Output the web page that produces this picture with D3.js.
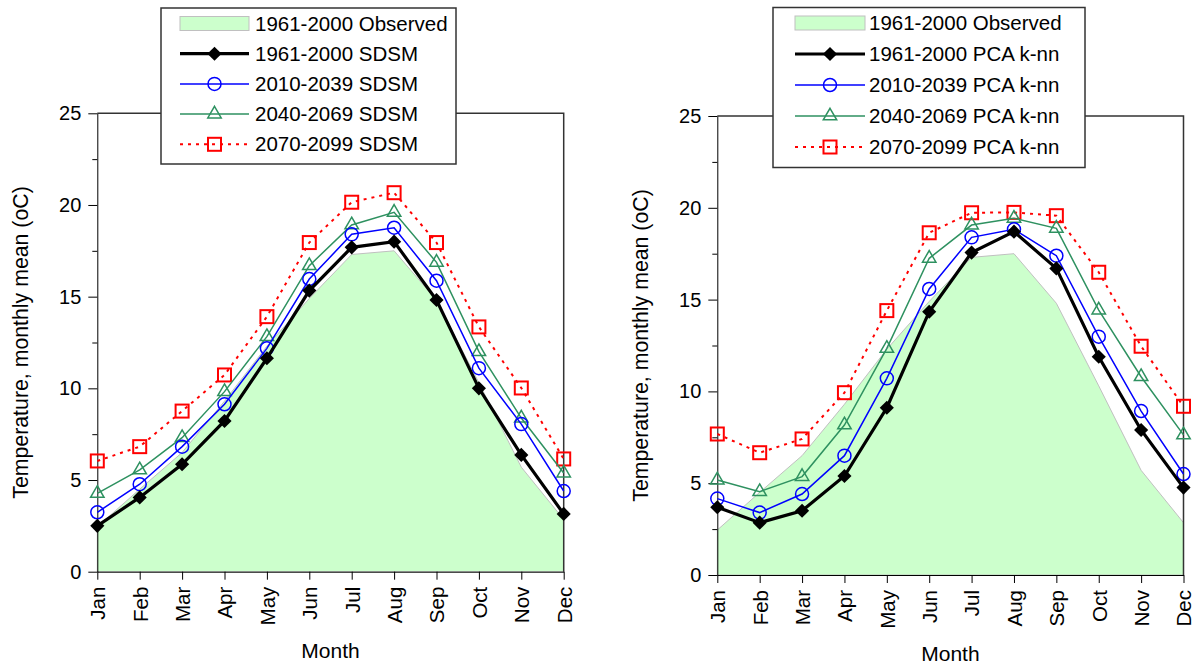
<!DOCTYPE html>
<html>
<head>
<meta charset="utf-8">
<script src="https://cdn.jsdelivr.net/npm/d3@7"></script>
<style>
body { margin: 0; background: #fff; }
svg { display: block; font-family: "Liberation Sans", Arial, sans-serif; }
</style>
</head>
<body>
<svg id="chart" width="1196" height="667"></svg>
<script>
var months = ['Jan','Feb','Mar','Apr','May','Jun','Jul','Aug','Sep','Oct','Nov','Dec'];
var yTicks = [0, 5, 10, 15, 20, 25];
var yMinorTicks = [2.5, 7.5, 12.5, 17.5, 22.5];

// 1961-2000 observed, same in both panels
var observed = [2.45, 4.5, 6.5, 9.3, 12.3, 14.9, 17.3, 17.5, 14.8, 10.3, 5.7, 2.85];

// SDSM panel
var sdsm1961 = [2.5, 4.05, 5.86, 8.22, 11.64, 15.33, 17.69, 18.0, 14.82, 10.0, 6.37, 3.15];
var sdsm2010 = [3.24, 4.77, 6.82, 9.13, 12.18, 15.96, 18.4, 18.76, 15.87, 11.1, 8.05, 4.4];
var sdsm2040 = [4.27, 5.55, 7.31, 9.82, 12.82, 16.69, 18.91, 19.6, 16.87, 12.0, 8.38, 5.38];
var sdsm2070 = [6.04, 6.82, 8.76, 10.73, 13.91, 17.95, 20.15, 20.67, 17.95, 13.35, 10.02, 6.15];

// PCA k-nn panel
var knn1961 = [3.69, 2.85, 3.5, 5.39, 9.11, 14.34, 17.56, 18.7, 16.7, 11.89, 7.9, 4.76];
var knn2010 = [4.16, 3.4, 4.41, 6.5, 10.71, 15.58, 18.39, 18.83, 17.39, 12.98, 8.93, 5.5];
var knn2040 = [5.17, 4.54, 5.36, 8.17, 12.34, 17.25, 19.06, 19.43, 18.88, 14.43, 10.8, 7.63];
var knn2070 = [7.68, 6.66, 7.41, 9.93, 14.4, 18.64, 19.73, 19.75, 19.57, 16.49, 12.46, 9.19];

var sdsmLabels = ['1961-2000 Observed', '1961-2000 SDSM', '2010-2039 SDSM', '2040-2069 SDSM', '2070-2099 SDSM'];
var knnLabels = ['1961-2000 Observed', '1961-2000 PCA k-nn', '2010-2039 PCA k-nn', '2040-2069 PCA k-nn', '2070-2099 PCA k-nn'];

var styles = [
  {color: '#000000', width: 3.2, mark: 'diamond', dash: null},
  {color: '#0000ff', width: 1.5, mark: 'circle', dash: null},
  {color: '#2e9160', width: 1.5, mark: 'triangle', dash: null},
  {color: '#ff0000', width: 2, mark: 'square', dash: '3,5'}
];

var svg = d3.select('#chart');
var FONT = '"Liberation Sans", Arial, sans-serif';

function drawMarker(g, mark, color, cx, cy) {
  if (mark == 'diamond') {
    g.append('path')
      .attr('d', d3.symbol(d3.symbolSquare, 100)())
      .attr('transform', 'translate(' + cx + ',' + cy + ') rotate(45)')
      .attr('fill', color);
  } else if (mark == 'circle') {
    g.append('circle').attr('cx', cx).attr('cy', cy).attr('r', 6.5)
      .attr('fill', 'none').attr('stroke', color).attr('stroke-width', 1.5);
  } else if (mark == 'triangle') {
    g.append('path')
      .attr('d', d3.symbol(d3.symbolTriangle, 78)())
      .attr('transform', 'translate(' + cx + ',' + cy + ')')
      .attr('fill', 'none').attr('stroke', color).attr('stroke-width', 1.5);
  } else {
    g.append('rect').attr('x', cx - 6.5).attr('y', cy - 6.5).attr('width', 13).attr('height', 13)
      .attr('fill', 'none').attr('stroke', color).attr('stroke-width', 2);
  }
}

function drawPanel(p) {
  var x = d3.scalePoint().domain(months).range([p.left, p.right]);
  var y = d3.scaleLinear().domain([0, 25]).range([p.bottom, p.top]);
  var g = svg.append('g');

  // observed area
  var area = d3.area()
    .x(function(d, i) { return x(months[i]); })
    .y0(y(0))
    .y1(function(d) { return y(d); });
  g.append('path').datum(observed)
    .attr('d', area)
    .attr('fill', '#ccffcc')
    .attr('stroke', '#c0c0c0')
    .attr('stroke-width', 1);

  // frame: top and right
  g.append('path')
    .attr('d', 'M' + p.left + ',' + p.top + 'H' + p.right + 'V' + p.bottom)
    .attr('fill', 'none').attr('stroke', '#333').attr('stroke-width', 1.5);

  // minor y ticks
  g.append('g').attr('transform', 'translate(' + p.left + ',0)')
    .call(d3.axisLeft(y).tickValues(yMinorTicks).tickSize(5).tickFormat(''))
    .call(function(a) { a.select('.domain').remove(); });

  // major y axis
  var ya = g.append('g').attr('transform', 'translate(' + p.left + ',0)')
    .call(d3.axisLeft(y).tickValues(yTicks).tickSize(9).tickSizeOuter(0).tickPadding(7));
  ya.selectAll('text').attr('font-size', 20).attr('font-family', FONT).attr('fill', '#000');

  // x axis
  var xa = g.append('g').attr('transform', 'translate(0,' + p.bottom + ')')
    .call(d3.axisBottom(x).tickSize(8).tickSizeOuter(0));
  xa.selectAll('text')
    .attr('transform', 'rotate(-90)')
    .attr('x', -15).attr('y', 0).attr('dy', '0.36em')
    .style('text-anchor', 'end')
    .attr('font-size', 20.5).attr('font-family', FONT).attr('fill', '#000');

  // axis titles
  g.append('text')
    .attr('transform', 'translate(' + (p.left - 69) + ',' + ((p.top + p.bottom) / 2) + ') rotate(-90)')
    .attr('text-anchor', 'middle')
    .attr('font-size', 21.3)
    .text('Temperature, monthly mean (oC)');
  g.append('text')
    .attr('x', (p.left + p.right) / 2).attr('y', p.bottom + 86)
    .attr('text-anchor', 'middle')
    .attr('font-size', 21)
    .text('Month');

  // series, drawn so the 1961-2000 line ends up on top
  for (var s = p.series.length - 1; s >= 0; s--) {
    var st = styles[s];
    var line = d3.line()
      .x(function(d, i) { return x(months[i]); })
      .y(function(d) { return y(d); });
    var sg = g.append('g');
    sg.append('path').datum(p.series[s])
      .attr('d', line)
      .attr('fill', 'none')
      .attr('stroke', st.color)
      .attr('stroke-width', st.width)
      .attr('stroke-dasharray', st.dash);
    p.series[s].forEach(function(v, i) {
      drawMarker(sg, st.mark, st.color, x(months[i]), y(v));
    });
  }

  // legend
  var L = p.legend;
  var lg = g.append('g');
  lg.append('rect')
    .attr('x', L.x).attr('y', L.y).attr('width', L.w).attr('height', L.h)
    .attr('fill', '#fff').attr('stroke', '#333').attr('stroke-width', 1.5);
  p.labels.forEach(function(lab, i) {
    var cy = L.y + L.first + i * L.step;
    if (i == 0) {
      lg.append('rect')
        .attr('x', L.sx0).attr('y', cy - 7).attr('width', L.sx1 - L.sx0).attr('height', 14)
        .attr('fill', '#ccffcc').attr('stroke', '#c0c0c0');
    } else {
      var st = styles[i - 1];
      lg.append('line')
        .attr('x1', L.sx0).attr('x2', L.sx1).attr('y1', cy).attr('y2', cy)
        .attr('stroke', st.color).attr('stroke-width', st.width)
        .attr('stroke-dasharray', st.dash);
      drawMarker(lg, st.mark, st.color, (L.sx0 + L.sx1) / 2, cy);
    }
    lg.append('text')
      .attr('x', L.tx).attr('y', cy).attr('dy', '0.35em')
      .attr('font-size', 20.5)
      .text(lab);
  });
}

drawPanel({
  left: 97.3, right: 563.7, top: 113.3, bottom: 571.7,
  series: [sdsm1961, sdsm2010, sdsm2040, sdsm2070],
  labels: sdsmLabels,
  legend: {x: 161, y: 8, w: 295, h: 156, first: 15.5, step: 30.2, sx0: 180, sx1: 249, tx: 255}
});

drawPanel({
  left: 717.3, right: 1183.5, top: 116, bottom: 575,
  series: [knn1961, knn2010, knn2040, knn2070],
  labels: knnLabels,
  legend: {x: 773, y: 7.5, w: 312, h: 160, first: 15.5, step: 31, sx0: 795, sx1: 865, tx: 869}
});
</script>
</body>
</html>
